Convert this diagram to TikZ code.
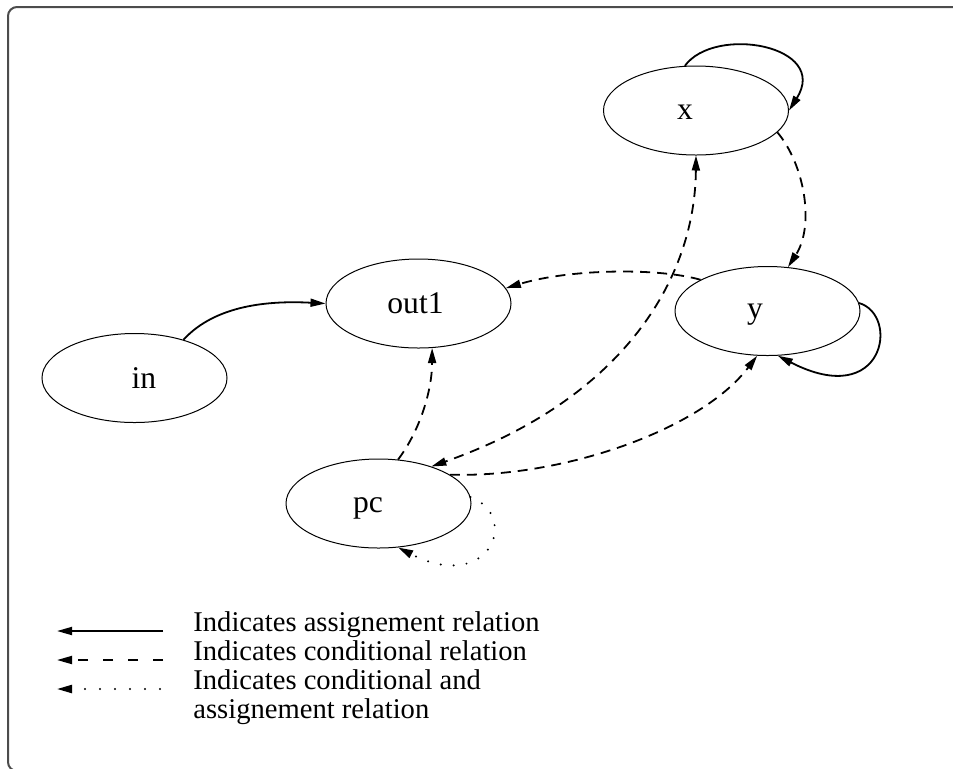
\documentclass[tikz,border=0pt]{standalone}
\usepackage{fontspec}
\setmainfont{Liberation Serif}
\usetikzlibrary{shapes.geometric,arrows.meta}
\begin{document}
\begin{tikzpicture}[x=0.5pt,y=-0.5pt,
  >={Triangle[length=7.5pt,width=4pt]},
  frame/.style={line width=1pt,black!70,rounded corners=4.5pt},
  state/.style={ellipse,draw,line width=0.5pt,minimum width=92.5pt,minimum height=44.5pt,inner sep=0pt},
  statelabel/.style={inner sep=0pt,font=\fontsize{15.8}{18}\selectfont},
  edge/.style={line width=0.9pt},
  assign/.style={edge},
  cond/.style={edge,dash pattern=on 5pt off 3.5pt},
  both/.style={edge,line width=1.1pt,line cap=round,dash pattern=on 0pt off 6.5pt},
  legcond/.style={edge,dash pattern=on 5pt off 7.5pt},
  legboth/.style={edge,line width=1.1pt,line cap=round,dash pattern=on 0pt off 7.5pt},
  legendtext/.style={anchor=base west,inner sep=0pt,font=\fontsize{14.3}{16}\selectfont}
]
\useasboundingbox (0,0) rectangle (953,768);
\clip (0,0) rectangle (953,768);

% outer frame
\draw[frame] (8,7) rectangle (1000,771);

% states
\node[state,label={[statelabel,shift={(-11,2)}]center:x}]     (x)    at (696,110.5) {};
\node[state,label={[statelabel,shift={(-12.5,4)}]center:y}]   (y)    at (767.5,311) {};
\node[state,label={[statelabel,shift={(-3,0)}]center:out1}]   (out1) at (418.5,303.5) {};
\node[state,label={[statelabel,shift={(9.5,0)}]center:in}]    (in)   at (134.5,378) {};
\node[state,label={[statelabel,shift={(-10.5,5)}]center:pc}]  (pc)   at (378.5,503.5) {};

% assignment relations
\draw[assign,->] (in.38) .. controls +(32,-35) and +(-56,-3) .. (out1.west);
\draw[assign,->] (x.104) .. controls +(30,-41) and +(41,-65) .. (x.east);
\draw[assign,->] (y.5) .. controls +(41,12) and +(107,55) .. (y.-77);

% conditional relations
\draw[cond,->] (x.-15) .. controls +(27,32) and +(27,-42) .. (y.65);
\draw[cond,->] (y.155) .. controls +(-41.5,-12) and +(65,-19.5) .. (out1.10);
\draw[cond,<->] (x.south) .. controls +(-1,125) and +(190,-67) .. (pc.35);
\draw[cond,->] (pc.66) .. controls +(22,-29) and +(0,42) .. (out1.-73);
\draw[cond,->] (pc.22) .. controls +(111,3.5) and +(-57,75) .. (y.-103);

% conditional and assignment relation
\draw[both,->] (pc.4) .. controls +(50,19) and +(92,47) .. (pc.-66);

% legend
\coordinate (la1) at (163,631); \coordinate (lb1) at (57,631);
\coordinate (la2) at (163,660); \coordinate (lb2) at (57,660);
\coordinate (la3) at (160,689); \coordinate (lb3) at (57,689);
\draw[assign,->] (la1) -- (lb1);
\draw[legcond,->] (la2) -- (lb2);
\draw[legboth,->] (la3) -- (lb3);
\node[legendtext] (t1) at (193,631) {Indicates assignement relation};
\node[legendtext] (t2) at (193,660) {Indicates conditional relation};
\node[legendtext] (t3) at (193,689) {Indicates conditional and};
\node[legendtext] (t4) at (193,718) {assignement relation};
\end{tikzpicture}
\end{document}
